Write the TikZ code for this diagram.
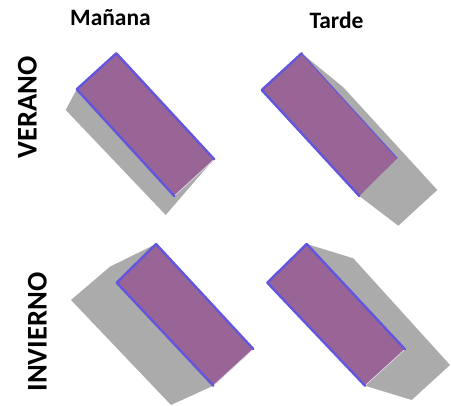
\documentclass[tikz,border=0pt]{standalone}
\usepackage{fontspec}
\setmainfont{Carlito}
\usetikzlibrary{positioning}
\definecolor{shPurple}{RGB}{152,101,150}
\definecolor{shBlue}{RGB}{98,86,222}
\definecolor{shGray}{RGB}{171,171,171}

\begin{document}
\begin{tikzpicture}[
    x=1pt, y=-1pt,
    shadow area/.style={fill=shGray},
    block face/.style={fill=shPurple},
    block edge/.style={draw=shBlue, line width=2.4pt, line join=round, line cap=round},
    lit edge/.style={draw=white!75!shPurple, line width=0.7pt},
    time label/.style={font=\fontsize{23.5}{25}\selectfont\bfseries, inner sep=0pt, anchor=base},
    season label/.style={font=\fontsize{28.5}{30}\selectfont\bfseries, inner sep=0pt, rotate=90}
]
  \useasboundingbox (0,0) rectangle (451,406);

  % column and row titles
  \node[time label] (manana) at (110.5,25.7) {Mañana};
  \node[time label] (tarde) at (336.5,29) {Tarde};
  \node[season label] (verano) at (27.5,107.5) {VERANO};
  \node[season label] (invierno) at (37.5,332) {INVIERNO};

  % verano, mañana
  \fill[shadow area] (76.7,89.3) -- (65.7,110) -- (165.7,215) -- (208,166) -- (214.3,159.3) -- (116.3,53.3) -- cycle;
  \fill[block face] (76.7,89.3) -- (116.3,53.3) -- (214.3,159.3) -- (174.3,196) -- cycle;
  \draw[lit edge] (214.3,159.3) -- (174.3,196);
  \draw[block edge] (174.3,196) -- (76.7,89.3) -- (116.3,53.3) -- (214.3,159.3);

  % verano, tarde
  \fill[shadow area] (301.7,53.3) -- (343.3,87.3) -- (437.3,190) -- (398.3,225.7) -- (359.3,196) -- (261.7,90) -- cycle;
  \fill[block face] (261.7,90) -- (301.7,53.3) -- (397.3,158.3) -- (359.3,196) -- cycle;
  \draw[block edge] (359.3,196) -- (261.7,90) -- (301.7,53.3);
  \draw[draw=shBlue, line width=1pt] (301.7,53.3) -- (397.3,158.3);

  % invierno, mañana
  \fill[shadow area] (156,244) -- (110,266.7) -- (71,300) -- (171,405) -- (213.3,385.7) -- (253.3,349) -- cycle;
  \fill[block face] (116.7,282.7) -- (156,244) -- (253.3,349) -- (213.3,385.7) -- cycle;
  \draw[lit edge] (253.3,349) -- (213.3,385.7);
  \draw[block edge] (213.3,385.7) -- (116.7,282.7) -- (156,244) -- (253.3,349);

  % invierno, tarde
  \fill[shadow area] (306.7,244) -- (353.3,258.3) -- (450,365) -- (411.7,400) -- (365,385.7) -- (267.3,282.7) -- cycle;
  \fill[block face] (267.3,282.7) -- (306.7,244) -- (405,349.3) -- (365,385.7) -- cycle;
  \draw[lit edge] (405,349.3) -- (365,385.7);
  \draw[block edge] (365,385.7) -- (267.3,282.7) -- (306.7,244) -- (405,349.3);
\end{tikzpicture}
\end{document}
